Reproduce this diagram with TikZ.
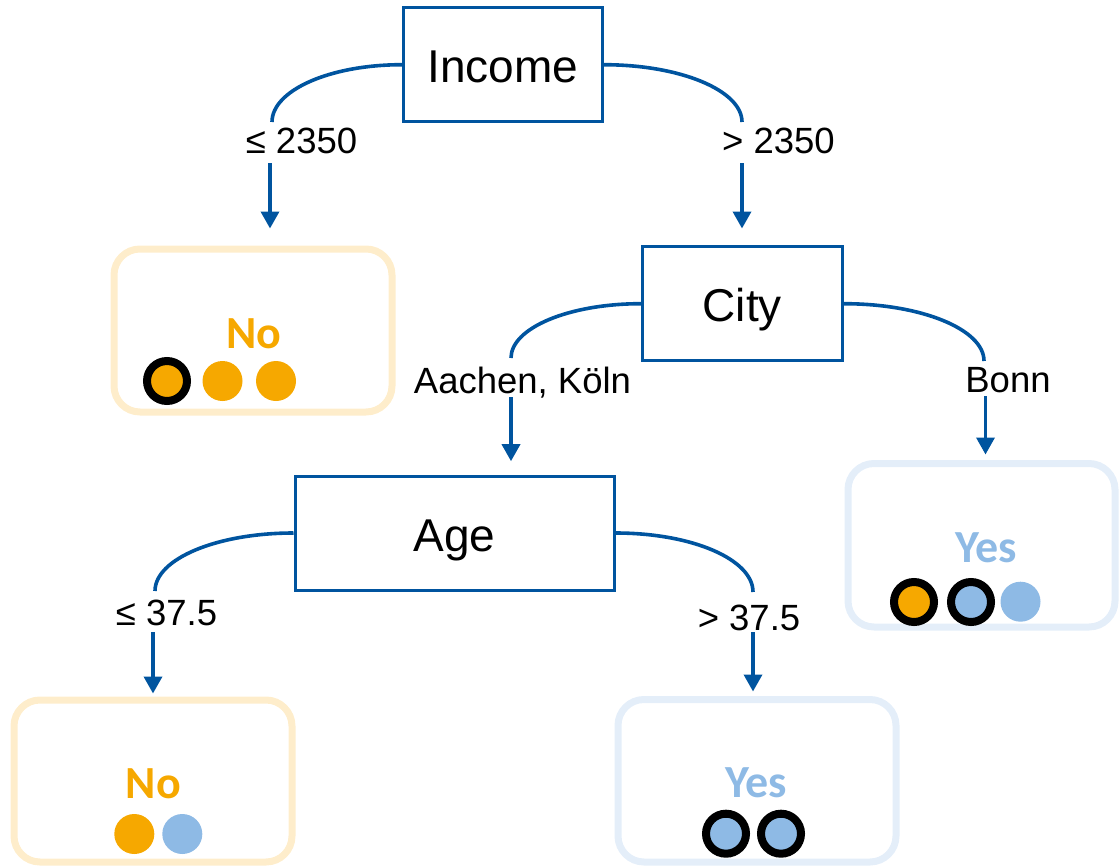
\documentclass[tikz,border=0pt]{standalone}
\usepackage{fontspec}
\setmainfont{Liberation Sans}
\newfontfamily\leaffont{Carlito}
\usetikzlibrary{arrows.meta}

\definecolor{treeblue}{HTML}{00549F}
\definecolor{yesblue}{HTML}{8EBAE5}
\definecolor{yesframe}{HTML}{E4EEF9}
\definecolor{noorange}{HTML}{F6A800}
\definecolor{noframe}{HTML}{FEEDCB}

\tikzset{
  split/.style={draw=treeblue, line width=3pt, fill=white, inner sep=0pt,
    text height=40pt, text depth=4pt, font=\fontsize{46}{50}\selectfont},
  leafbox/.style={line width=7pt, rounded corners=26pt, inner sep=0pt},
  noleaf/.style={leafbox, draw=noframe},
  yesleaf/.style={leafbox, draw=yesframe},
  verdict/.style={anchor=base, inner sep=0pt, font=\leaffont\bfseries\fontsize{46}{50}\selectfont},
  noword/.style={verdict, text=noorange},
  yesword/.style={verdict, text=yesblue},
  cond/.style={anchor=base, inner sep=0pt, font=\fontsize{36.5}{40}\selectfont},
  dot/.style={circle, inner sep=0pt, minimum size=40pt},
  dotO/.style={dot, fill=noorange},
  dotB/.style={dot, fill=yesblue},
  ringO/.style={dotO, draw=black, line width=8pt},
  ringB/.style={dotB, draw=black, line width=8pt},
  edge/.style={draw=treeblue, line width=3.6pt},
  arrow/.style={edge, -{Triangle[width=18pt,length=17pt]}}
}

\begin{document}
\begin{tikzpicture}[x=1pt, y=-1pt]
\useasboundingbox (0,0) rectangle (1119,867);

% split nodes
\node[split, minimum width=198.5pt, minimum height=113.5pt] (income) at (502.8,64.7) {Income};
\node[split, minimum width=200pt, minimum height=114pt] (city) at (742.3,303.7) {City};
\node[split, minimum width=319pt, minimum height=114pt] (age) at (454.5,533) {Age};

% leaf frames
\node[noleaf, minimum width=278pt, minimum height=163pt] (leafA) at (253,330.5) {};
\node[yesleaf, minimum width=267pt, minimum height=163.5pt] (leafB) at (981.5,545.25) {};
\node[noleaf, minimum width=278pt, minimum height=162pt] (leafC) at (153,781) {};
\node[yesleaf, minimum width=278pt, minimum height=162.5pt] (leafD) at (757,780.75) {};

% leaf verdicts
\node[noword] (vA) at (254,348) {No};
\node[yesword] (vB) at (986,562) {Yes};
\node[noword] (vC) at (153.3,798) {No};
\node[yesword] (vD) at (756,797) {Yes};

% samples in each leaf
\node[ringO] (a1) at (167,381) {};
\node[dotO] (a2) at (222.5,381) {};
\node[dotO] (a3) at (276,381) {};
\node[ringO] (b1) at (914,602) {};
\node[ringB] (b2) at (971,602) {};
\node[dotB] (b3) at (1020.5,601.7) {};
\node[dotO] (c1) at (134.3,834) {};
\node[dotB] (c2) at (182.3,834) {};
\node[ringB] (d1) at (726,833.7) {};
\node[ringB] (d2) at (781,833.7) {};

% branch bends and arrow starts
\coordinate (k1) at (272,122);   \coordinate (s1) at (270,163);
\coordinate (k2) at (742,122);   \coordinate (s2) at (742,163);
\coordinate (k3) at (511,358);   \coordinate (s3) at (511,397);
\coordinate (k4) at (984,361);   \coordinate (s4) at (985.5,396);
\coordinate (k5) at (155,591);   \coordinate (s5) at (153,632);
\coordinate (k6) at (753,592);   \coordinate (s6) at (753,632);

% branch conditions
\node[cond] (t1) at (301.5,153) {≤ 2350};
\node[cond] (t2) at (778.5,153) {> 2350};
\node[cond] (t3) at (522.5,393) {Aachen, Köln};
\node[cond] (t4) at (1008,392) {Bonn};
\node[cond] (t5) at (166.5,625) {≤ 37.5};
\node[cond] (t6) at (749,630) {> 37.5};

% curved branch lines
\draw[edge] (income.west) .. controls +(-72.6,0) and +(0,-31.5) .. (k1);
\draw[edge] (income.east) .. controls +(77,0) and +(0,-31.5) .. (k2);
\draw[edge] (city.west) .. controls +(-72,0) and +(0,-30) .. (k3);
\draw[edge] (city.east) .. controls +(78,0) and +(0,-31.5) .. (k4);
\draw[edge] (age.west) .. controls +(-77,0) and +(0,-32) .. (k5);
\draw[edge] (age.east) .. controls +(77,0) and +(0,-32.5) .. (k6);

% arrows down to the children
\draw[arrow, shorten >=17pt] (s1) -- (s1 |- leafA.north);
\draw[arrow, shorten >=16.7pt] (s2) -- (s2 |- city.north);
\draw[arrow, shorten >=13.3pt] (s3) -- (s3 |- age.north);
\draw[arrow, shorten >=5.5pt] (s4) -- (s4 |- leafB.north);
\draw[arrow, shorten >=3pt] (s5) -- (s5 |- leafC.north);
\draw[arrow, shorten >=4.5pt] (s6) -- (s6 |- leafD.north);
\end{tikzpicture}
\end{document}
